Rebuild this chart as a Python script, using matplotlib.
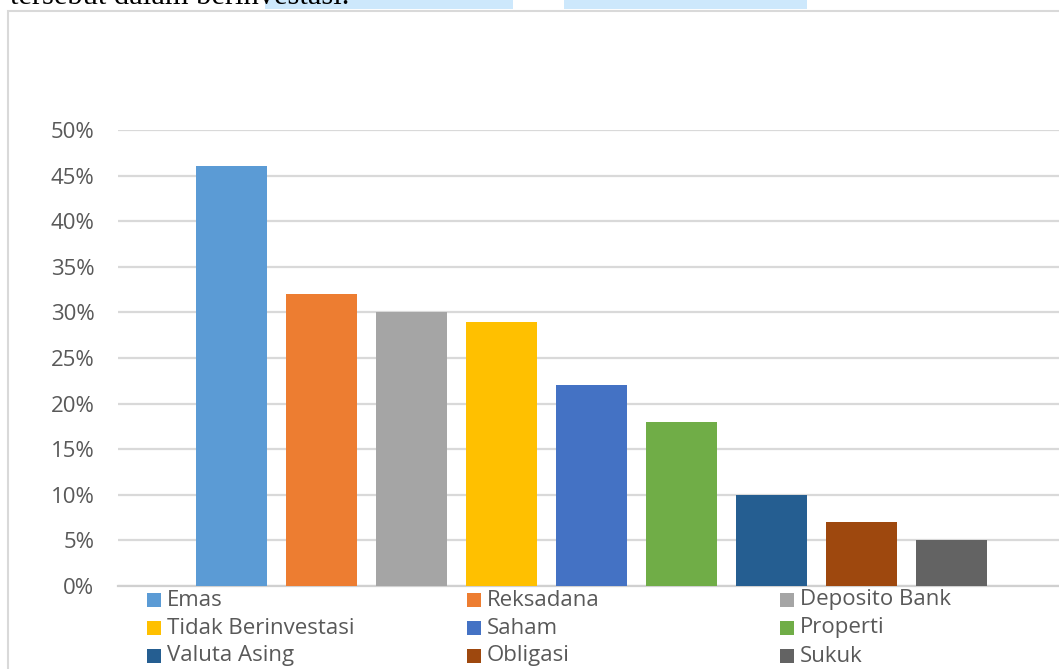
import matplotlib.pyplot as plt
from matplotlib.patches import Rectangle
from matplotlib.ticker import PercentFormatter

# data
kategori = ["Emas", "Reksadana", "Deposito Bank", "Tidak Berinvestasi", "Saham",
            "Properti", "Valuta Asing", "Obligasi", "Sukuk"]
persen = [0.46, 0.32, 0.30, 0.29, 0.22, 0.18, 0.10, 0.07, 0.05]
warna = ["#5B9BD5", "#ED7D31", "#A5A5A5", "#FFC000", "#4472C4",
         "#70AD47", "#255E91", "#9E480E", "#636363"]
yticks = [0, 0.05, 0.10, 0.15, 0.20, 0.25, 0.30, 0.35, 0.40, 0.45, 0.50]

W, H = 1059, 669
fig = plt.figure(figsize=(W / 100, H / 100), dpi=100)
plt.rcParams['font.family'] = ['Open Sans', 'DejaVu Sans']

# chart frame (cut by the page edges)
fig.patches.append(Rectangle((8 / W, -0.1), 1.2, (H - 11) / H + 0.1, transform=fig.transFigure,
                             fill=False, edgecolor="#d9d9d9", lw=1.5))
# bits of the page above the chart
fig.patches.append(Rectangle((265 / W, (H - 9) / H), 248 / W, 0.1, transform=fig.transFigure,
                             color="#cde8fc", lw=0))
fig.patches.append(Rectangle((564 / W, (H - 9) / H), 243 / W, 0.1, transform=fig.transFigure,
                             color="#cde8fc", lw=0))
# last line of the paragraph above, mostly cut off in the original
fig.text(10 / W, 1 - 4 / H, "tersebut dalam berinvestasi.", family="Liberation Serif",
         fontsize=22, color="black", va="baseline", ha="left", zorder=5)

ax = fig.add_axes([118 / W, (H - 586) / H, (W - 118) / W, (586 - 130) / H])
x = list(range(len(kategori)))
ax.bar(x, persen, width=0.79, color=warna, zorder=3)
ax.set_xlim(-1.261, 8 + (W - 951.5) / 90)
ax.set_ylim(0, 0.5)
ax.set_yticks(yticks)
ax.yaxis.set_major_formatter(PercentFormatter(1.0, decimals=0))
ax.grid(axis="y", color="#d9d9d9", lw=1.6, zorder=0)
ax.set_xticks([])
for s in ["top", "right", "left"]:
    ax.spines[s].set_visible(False)
ax.spines["bottom"].set_color("#d0d0d0")
ax.spines["bottom"].set_linewidth(1.6)
ax.tick_params(axis="y", length=0, pad=17, labelsize=16, labelcolor="#595959")

# legend, filled row by row like the original
kolom_x = [147, 467, 780]
baris_y = [600, 628, 656]
for i, (nama, c) in enumerate(zip(kategori, warna)):
    lx = kolom_x[i % 3]
    ly = baris_y[i // 3]
    fig.patches.append(Rectangle((lx / W, (H - ly - 7) / H), 14 / W, 14 / H,
                                 transform=fig.transFigure, color=c, lw=0))
    fig.text((lx + 20) / W, (H - ly) / H, nama, fontsize=16, color="#595959",
             va="center", ha="left")

fig.savefig("out.png", dpi=100)
